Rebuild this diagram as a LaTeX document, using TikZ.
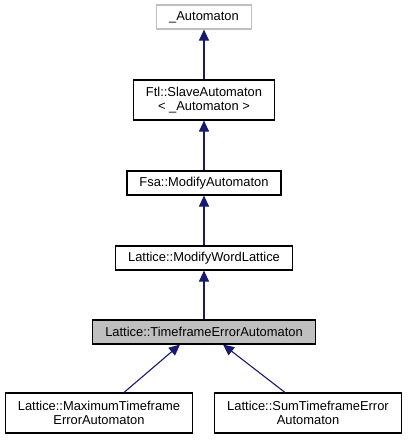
\documentclass[tikz,border=0pt]{standalone}
\usepackage{fontspec}
\setmainfont{Liberation Sans}
\usepackage{xcolor}
\definecolor{edgeblue}{HTML}{191970}
\definecolor{undocgray}{HTML}{BFBFBF}
\definecolor{curfill}{HTML}{BFBFBF}
\usetikzlibrary{positioning,calc,arrows.meta}

\begin{document}
\begin{tikzpicture}[
  x=1pt, y=-1pt,
  font=\fontsize{12.9}{14}\selectfont,
  classbox/.style={draw=black, line width=1.1pt, fill=white, align=center,
                   inner xsep=12.5pt, inner ysep=2pt, minimum height=24pt},
  twoline/.style={classbox, minimum height=40pt},
  link/.style={-{Triangle[length=11pt,width=10pt]}, edgeblue, line width=1.1pt}
]
  \useasboundingbox (0,0) rectangle (410,440);

  \node[classbox, draw=undocgray] (auto)  at (204,17)  {\_Automaton};
  \node[twoline]                  (slave) at (204,100) {Ftl::SlaveAutomaton\\< \_Automaton >};
  \node[classbox]                 (fsa)   at (204,183) {Fsa::ModifyAutomaton};
  \node[classbox]                 (mwl)   at (204,258) {Lattice::ModifyWordLattice};
  \node[classbox, fill=curfill]   (tfe)   at (204,332) {Lattice::TimeframeErrorAutomaton};
  \node[twoline]                  (maxte) at (99,413)  {Lattice::MaximumTimeframe\\ErrorAutomaton};
  \node[twoline]                  (sumte) at (308,413) {Lattice::SumTimeframeError\\Automaton};

  \draw[link] (slave) -- (auto);
  \draw[link] (fsa) -- (slave);
  \draw[link] (mwl) -- (fsa);
  \draw[link] (tfe) -- (mwl);
  \draw[link] ($(maxte.north)+(25,0)$) -- ($(tfe.south)+(-24,0)$);
  \draw[link] ($(sumte.north)+(-23,0)$) -- ($(tfe.south)+(19,0)$);
\end{tikzpicture}
\end{document}
